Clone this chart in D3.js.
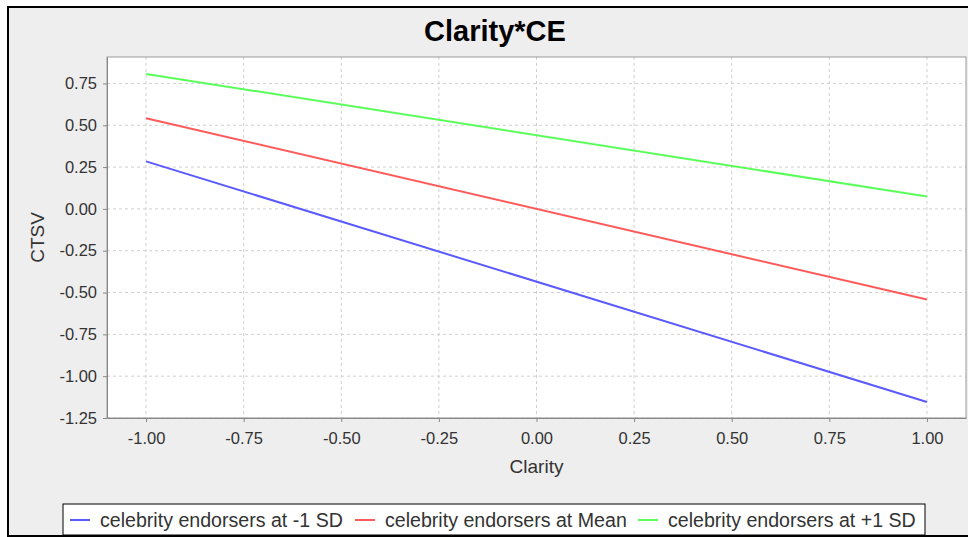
<!DOCTYPE html>
<html>
<head>
<meta charset="utf-8">
<script src="https://cdn.jsdelivr.net/npm/d3@7"></script>
<style>
  body { margin: 0; background: #ffffff; }
  svg { display: block; font-family: "Liberation Sans", Arial, sans-serif; }
</style>
</head>
<body>
<div id="chart"></div>
<script>
// data
const clarity = [-1.0, 1.0];
const seriesNames = ["celebrity endorsers at -1 SD", "celebrity endorsers at Mean", "celebrity endorsers at +1 SD"];
const lowSD = [0.284, -1.154];
const mean = [0.542, -0.542];
const highSD = [0.807, 0.074];
const xTicks = [-1.0, -0.75, -0.5, -0.25, 0.0, 0.25, 0.5, 0.75, 1.0];
const yTicks = [0.75, 0.5, 0.25, 0.0, -0.25, -0.5, -0.75, -1.0, -1.25];
const colors = ["#5a5aff", "#ff5a5a", "#5aff5a"];

const width = 968, height = 537;
const plot = {left: 107, top: 57, right: 966, bottom: 418};

let svg = d3.select("#chart")
    .append("svg")
    .attr("width", width)
    .attr("height", height);

// outer chart frame
svg.append("rect")
    .attr("x", 8)
    .attr("y", 7)
    .attr("width", width)
    .attr("height", height - 8)
    .attr("fill", "#eeeeee")
    .attr("stroke", "#000")
    .attr("stroke-width", 2);

let x = d3.scaleLinear()
    .domain([-1.1, 1.1])
    .range([plot.left, plot.right]);
let y = d3.scaleLinear()
    .domain([-1.25, 0.908])
    .range([plot.bottom, plot.top]);

// plot background
svg.append("rect")
    .attr("x", plot.left)
    .attr("y", plot.top)
    .attr("width", plot.right - plot.left)
    .attr("height", plot.bottom - plot.top)
    .attr("fill", "#fff");

// grid
svg.append("g")
    .selectAll("line")
    .data(xTicks)
    .enter()
    .append("line")
    .attr("x1", d => x(d))
    .attr("x2", d => x(d))
    .attr("y1", plot.top)
    .attr("y2", plot.bottom)
    .attr("stroke", "#cfcfcf")
    .attr("stroke-dasharray", "3,3");
svg.append("g")
    .selectAll("line")
    .data(yTicks)
    .enter()
    .append("line")
    .attr("x1", plot.left)
    .attr("x2", plot.right)
    .attr("y1", d => y(d))
    .attr("y2", d => y(d))
    .attr("stroke", "#cfcfcf")
    .attr("stroke-dasharray", "3,3");

svg.append("rect")
    .attr("x", plot.left)
    .attr("y", plot.top)
    .attr("width", plot.right - plot.left)
    .attr("height", plot.bottom - plot.top)
    .attr("fill", "none")
    .attr("stroke", "#999");

// axes
let xAxis = svg.append("g")
    .attr("transform", `translate(0,${plot.bottom})`)
    .call(d3.axisBottom(x).tickValues(xTicks).tickFormat(d3.format(".2f")).tickSizeOuter(0).tickSizeInner(4).tickPadding(6));
let yAxis = svg.append("g")
    .attr("transform", `translate(${plot.left},0)`)
    .call(d3.axisLeft(y).tickValues(yTicks).tickFormat(d3.format(".2f")).tickSizeOuter(0).tickSizeInner(4).tickPadding(6));
[xAxis, yAxis].forEach(function (a) {
    a.select(".domain").attr("stroke", "#888");
    a.selectAll(".tick line").attr("stroke", "#888");
    a.selectAll(".tick text")
        .attr("fill", "#333")
        .style("font-size", "16.5px")
        .style("font-family", "'Liberation Sans', Arial, sans-serif")
        .text(d => d3.format(".2f")(d).replace("−", "-"));
});
xAxis.selectAll(".tick text").attr("dy", "0.95em");

// series lines
const series = [lowSD, mean, highSD];
let line = d3.line()
    .x((d, i) => x(clarity[i]))
    .y(d => y(d));
svg.append("g")
    .selectAll("path")
    .data(series)
    .enter()
    .append("path")
    .attr("d", d => line(d))
    .attr("fill", "none")
    .attr("stroke", (d, i) => colors[i])
    .attr("stroke-width", 2);

// titles
svg.append("text")
    .attr("x", 495)
    .attr("y", 41)
    .attr("text-anchor", "middle")
    .style("font-size", "29px")
    .style("font-weight", "bold")
    .text("Clarity*CE");
svg.append("text")
    .attr("x", (plot.left + plot.right) / 2)
    .attr("y", 473)
    .attr("text-anchor", "middle")
    .attr("fill", "#333")
    .style("font-size", "19px")
    .text("Clarity");
svg.append("text")
    .attr("transform", `translate(44,${(plot.top + plot.bottom) / 2})rotate(-90)`)
    .attr("text-anchor", "middle")
    .attr("fill", "#333")
    .style("font-size", "19px")
    .text("CTSV");

// legend
svg.append("rect")
    .attr("x", 63)
    .attr("y", 504)
    .attr("width", 862)
    .attr("height", 31)
    .attr("fill", "#fff")
    .attr("stroke", "#000");
const legendX = [70, 355, 638];
let legend = svg.append("g")
    .selectAll("g")
    .data(seriesNames)
    .enter()
    .append("g")
    .attr("transform", (d, i) => `translate(${legendX[i]},520)`);
legend.append("line")
    .attr("x1", 0)
    .attr("x2", 20)
    .attr("stroke", (d, i) => colors[i])
    .attr("stroke-width", 2);
legend.append("text")
    .attr("x", 30)
    .attr("dy", "0.35em")
    .attr("fill", "#333")
    .style("font-size", "19.6px")
    .text(d => d);
</script>
</body>
</html>
